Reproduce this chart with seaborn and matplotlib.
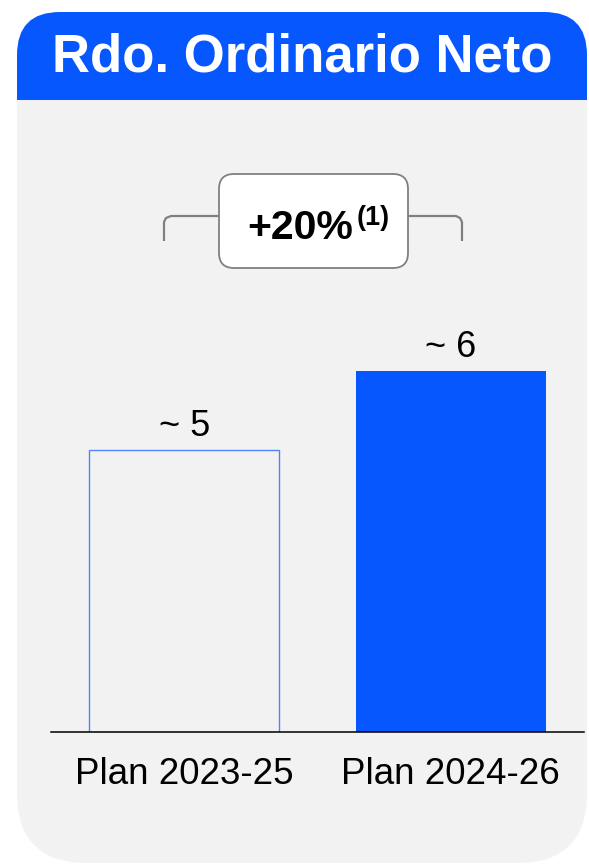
import matplotlib
matplotlib.use("Agg")
import matplotlib.pyplot as plt
from matplotlib.patches import FancyBboxPatch, Rectangle
import seaborn as sns
import pandas as pd

# ---- data ----
categories = ["Plan 2023-25", "Plan 2024-26"]
values = [5.0, 6.4]
bar_labels = ["~ 5", "~ 6"]
title = "Rdo. Ordinario Neto"
growth_label = "+20%"
growth_note = "(1)"

BLUE = "#0757FF"
EDGE_BLUE = "#4F84FF"
PANEL = "#F2F2F2"
GRAY = "#808080"

sns.set_theme(style="white")
plt.rcParams["font.family"] = ["Liberation Sans", "DejaVu Sans"]

W, H = 589, 865
fig = plt.figure(figsize=(W / 100, H / 100), dpi=100)
fig.patch.set_facecolor("white")

# background / decoration axes in pixel coordinates
bg = fig.add_axes([0, 0, 1, 1], zorder=0)
bg.set_xlim(0, W)
bg.set_ylim(H, 0)
bg.axis("off")

bg.add_patch(FancyBboxPatch((17, 12), 570, 851,
                            boxstyle="round,pad=0,rounding_size=70",
                            facecolor=PANEL, edgecolor="none"))
bg.add_patch(FancyBboxPatch((17, 12), 570, 130,
                            boxstyle="round,pad=0,rounding_size=43",
                            facecolor=BLUE, edgecolor="none"))
bg.add_patch(Rectangle((17, 100), 570, 60, facecolor=PANEL, edgecolor="none"))
bg.text(302, 71, title, color="white", fontsize=38, fontweight="bold",
        ha="center", va="baseline")

# bracket
bg.plot([164, 164, 166, 171, 219], [241, 222, 218, 216, 216], color=GRAY, lw=1.6,
        solid_capstyle="butt", solid_joinstyle="round")
bg.plot([408, 456, 460, 462, 462], [216, 216, 218, 222, 241], color=GRAY, lw=1.6,
        solid_capstyle="butt", solid_joinstyle="round")
# growth box
bg.add_patch(FancyBboxPatch((219, 174), 189, 94,
                            boxstyle="round,pad=0,rounding_size=15",
                            facecolor="white", edgecolor=GRAY, lw=1.3))
t = bg.text(247, 239, growth_label, fontsize=29.5, fontweight="bold",
            color="black", ha="left", va="baseline")
bg.annotate(growth_note, xy=(1.0, 0.0), xycoords=t, xytext=(2.5, 15.5),
            textcoords="offset points", fontsize=19.5, fontweight="bold",
            ha="left", va="baseline", color="black")

# main chart axes
ax = fig.add_axes([51 / W, (H - 732) / H, (584 - 51) / W, 564 / H], zorder=2)
ax.patch.set_alpha(0)

df = pd.DataFrame({"plan": categories, "value": values})
sns.barplot(data=df, x="plan", y="value", ax=ax, width=0.713,
            color=BLUE, saturation=1)

patches = ax.patches
patches[0].set_facecolor("none")
patches[0].set_edgecolor(EDGE_BLUE)
patches[0].set_linewidth(1.0)
patches[1].set_facecolor(BLUE)
patches[1].set_edgecolor("none")

for i, (v, lbl) in enumerate(zip(values, bar_labels)):
    ax.annotate(lbl, xy=(i, v), xytext=(0, 10), textcoords="offset points",
                ha="center", va="baseline", fontsize=26, color="black")

ax.set_xlim(-0.5, 1.5)
ax.set_ylim(0, 10)
ax.set_xlabel("")
ax.set_ylabel("")
ax.set_yticks([])
ax.tick_params(axis="x", length=0, pad=18, labelsize=26.5, labelcolor="black")
for s in ["top", "right", "left"]:
    ax.spines[s].set_visible(False)
ax.spines["bottom"].set_color("black")
ax.spines["bottom"].set_linewidth(1.1)

fig.savefig("out.png", dpi=100)
